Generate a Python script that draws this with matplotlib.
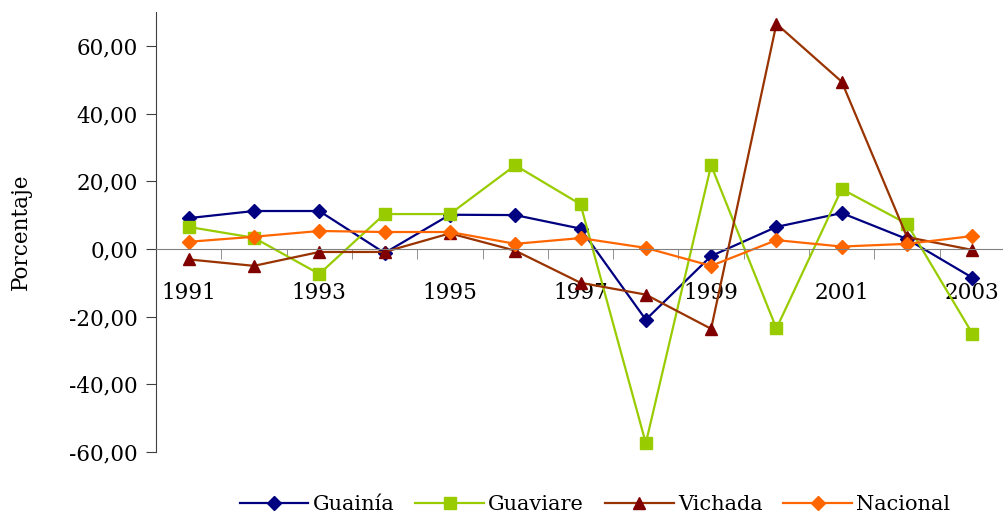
import matplotlib.pyplot as plt
from matplotlib.ticker import FuncFormatter, FixedLocator

years = [1991, 1992, 1993, 1994, 1995, 1996, 1997, 1998, 1999, 2000, 2001, 2002, 2003]
guainia = [9.1, 11.2, 11.2, -1.2, 10.1, 10.0, 6.0, -20.9, -2.1, 6.5, 10.6, 2.9, -8.5]
guaviare = [6.5, 3.3, -7.4, 10.3, 10.3, 24.7, 13.2, -57.4, 24.7, -23.5, 17.7, 7.4, -25.0]
vichada = [-3.1, -5.0, -0.9, -0.9, 4.6, -0.5, -10.0, -13.5, -23.6, 66.5, 49.4, 3.5, -0.3]
nacional = [2.1, 3.6, 5.3, 5.0, 5.0, 1.5, 3.2, 0.3, -5.0, 2.6, 0.7, 1.5, 3.8]

plt.rcParams["font.family"] = ["DejaVu Serif"]

fig = plt.figure(figsize=(10.04, 5.15), dpi=100)
ax = fig.add_axes([156 / 1004, 1 - 452 / 515, 849 / 1004, 440 / 515])

x = list(range(len(years)))
ax.plot(x, guainia, color="#000080", lw=1.6, marker="D", ms=7.5, label="Guainía")
ax.plot(x, guaviare, color="#99CC00", lw=1.6, marker="s", ms=8, label="Guaviare")
ax.plot(x, vichada, color="#993300", lw=1.6, marker="^", ms=9,
        mfc="#800000", mec="#800000", label="Vichada")
ax.plot(x, nacional, color="#FF6600", lw=1.6, marker="D", ms=7.5, label="Nacional")

ax.set_xlim(-0.5, len(years) - 0.5)
ax.set_ylim(-60, 70)
ax.set_yticks([-60, -40, -20, 0, 20, 40, 60])
ax.yaxis.set_major_formatter(FuncFormatter(lambda v, p: f"{v:.2f}".replace(".", ",")))

ax.xaxis.set_major_locator(FixedLocator(x[::2]))
ax.set_xticklabels([str(y) for y in years[::2]])
ax.xaxis.set_minor_locator(FixedLocator([i - 0.5 for i in range(len(years) + 1)]))

for s in ["top", "right"]:
    ax.spines[s].set_visible(False)
ax.spines["bottom"].set_position(("data", 0))
ax.spines["bottom"].set_color("#808080")
ax.spines["left"].set_color("#404040")

ax.tick_params(axis="x", which="major", length=0, pad=24, labelsize=15.5)
ax.tick_params(axis="x", which="minor", length=7, color="#808080", direction="out")
ax.tick_params(axis="y", length=7, color="#404040", labelsize=15.5, pad=6)

ax.set_ylabel("Porcentaje", fontsize=15.5, labelpad=27)

ax.legend(loc="center", bbox_to_anchor=(595 / 1004, 1 - 505 / 515),
          bbox_transform=fig.transFigure, ncol=4, frameon=False,
          fontsize=15, handlelength=3.3, columnspacing=1.0, handletextpad=0.2)

fig.savefig("out.png", dpi=100)
